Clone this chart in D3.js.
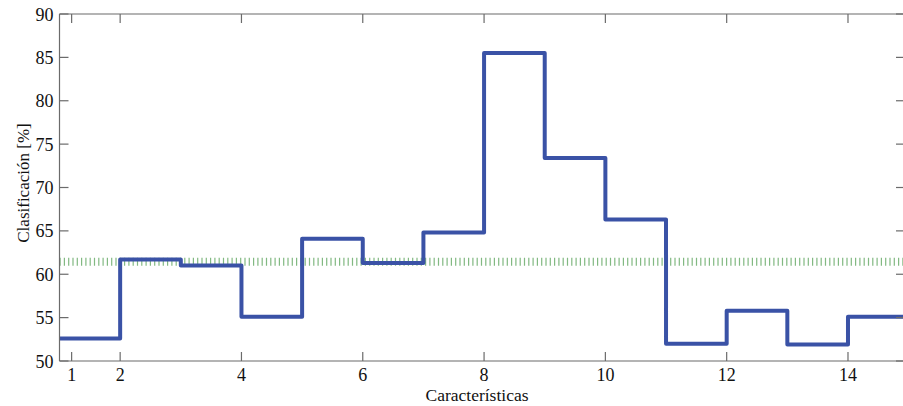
<!DOCTYPE html>
<html>
<head>
<meta charset="utf-8">
<script src="https://cdn.jsdelivr.net/npm/d3@7"></script>
<style>
  body { margin: 0; background: #fff; }
  svg { display: block; }
</style>
</head>
<body>
<svg id="chart" width="903" height="406"></svg>
<script>
// step values, one per feature (x = 1..14, each holds until the next)
const features = [1, 2, 3, 4, 5, 6, 7, 8, 9, 10, 11, 12, 13, 14];
const rates = [52.6, 61.7, 61.0, 55.1, 64.1, 61.3, 64.8, 85.5, 73.4, 66.3, 52.0, 55.8, 51.9, 55.1];
const meanRate = 61.45;

// matlab puts the "1" tick a bit inside the box
const xTickPos = [1.2, 2, 4, 6, 8, 10, 12, 14];
const xTickLabels = ["1", "2", "4", "6", "8", "10", "12", "14"];
const yTicks = [50, 55, 60, 65, 70, 75, 80, 85, 90];

const svg = d3.select("#chart")
  .attr("font-family", "'Liberation Serif', 'Times New Roman', serif");
const pLeft = 59.5, pRight = 905, pTop = 14, pBottom = 361;

const x = d3.scaleLinear().domain([1, 14.94]).range([pLeft, pRight]);
const y = d3.scaleLinear().domain([50, 90]).range([pBottom, pTop]);

const axisColor = "#6b6b6b";
const tickLen = 9;

// stair points
const pts = [];
rates.forEach((v, i) => {
  pts.push([features[i], v]);
  pts.push([features[i] + 1, v]);
});

svg.append("clipPath").attr("id", "plotclip")
  .append("rect").attr("x", pLeft).attr("y", pTop - 5)
  .attr("width", pRight - pLeft).attr("height", pBottom - pTop + 5);

// mean line, drawn as tiny vertical dashes
svg.append("line")
  .attr("x1", x(1)).attr("x2", x(15))
  .attr("y1", y(meanRate)).attr("y2", y(meanRate))
  .attr("stroke", "#2e8b2e")
  .attr("stroke-opacity", 0.6)
  .attr("stroke-width", 8)
  .attr("stroke-dasharray", "1.2,3.1")
  .attr("clip-path", "url(#plotclip)");

svg.append("path")
  .datum(pts)
  .attr("fill", "none")
  .attr("stroke", "#3a52a6")
  .attr("stroke-width", 4)
  .attr("stroke-linejoin", "round")
  .attr("clip-path", "url(#plotclip)")
  .attr("d", d3.line().x(d => x(d[0])).y(d => y(d[1])));

// box
const box = svg.append("g").attr("stroke", axisColor).attr("stroke-width", 1.2).attr("fill", "none");
box.append("line").attr("x1", pLeft).attr("x2", pRight).attr("y1", pBottom).attr("y2", pBottom);
box.append("line").attr("x1", pLeft).attr("x2", pRight).attr("y1", pTop).attr("y2", pTop);
box.append("line").attr("x1", pLeft).attr("x2", pLeft).attr("y1", pTop).attr("y2", pBottom);
box.append("line").attr("x1", pRight).attr("x2", pRight).attr("y1", pTop).attr("y2", pBottom);

// ticks (inward, on all four sides)
xTickPos.forEach(t => {
  box.append("line").attr("x1", x(t)).attr("x2", x(t)).attr("y1", pBottom).attr("y2", pBottom - tickLen);
  box.append("line").attr("x1", x(t)).attr("x2", x(t)).attr("y1", pTop).attr("y2", pTop + tickLen);
});
yTicks.forEach(t => {
  box.append("line").attr("x1", pLeft).attr("x2", pLeft + tickLen).attr("y1", y(t)).attr("y2", y(t));
  box.append("line").attr("x1", pRight).attr("x2", pRight - tickLen).attr("y1", y(t)).attr("y2", y(t));
});

// tick labels
svg.append("g").selectAll("text")
  .data(xTickPos)
  .enter()
  .append("text")
  .attr("x", d => x(d))
  .attr("y", pBottom + 20)
  .attr("text-anchor", "middle")
  .attr("font-size", "18px")
  .attr("fill", "#111")
  .text((d, i) => xTickLabels[i]);

svg.append("g").selectAll("text")
  .data(yTicks)
  .enter()
  .append("text")
  .attr("x", pLeft - 6)
  .attr("y", d => y(d) + 6.5)
  .attr("text-anchor", "end")
  .attr("font-size", "18px")
  .attr("fill", "#111")
  .text(d => d);

// axis titles
svg.append("text")
  .attr("x", 477)
  .attr("y", 401)
  .attr("text-anchor", "middle")
  .attr("font-size", "17.5px")
  .attr("fill", "#111")
  .text("Características");

svg.append("text")
  .attr("transform", "translate(29,183) rotate(-90)")
  .attr("text-anchor", "middle")
  .attr("font-size", "17px")
  .attr("fill", "#111")
  .text("Clasificación [%]");
</script>
</body>
</html>
